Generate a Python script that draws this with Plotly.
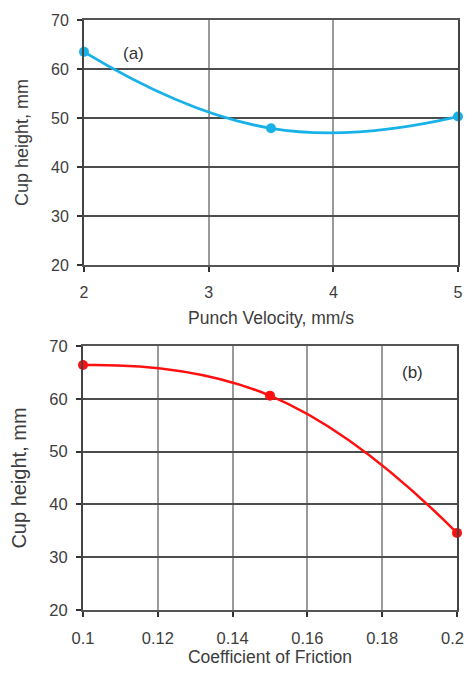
import plotly.graph_objects as go

# Data
vel_x = [2, 3.5, 5]
vel_y = [63.5, 47.9, 50.3]
fric_x = [0.1, 0.15, 0.2]
fric_y = [66.4, 60.6, 34.6]

vel_ticks = [2, 3, 4, 5]
fric_ticks = [0.1, 0.12, 0.14, 0.16, 0.18, 0.2]
# last label padded with non-breaking spaces so it stays inside the page edge
fric_labels = ["0.1", "0.12", "0.14", "0.16", "0.18", "0.2\u00a0\u00a0"]
y_ticks = [20, 30, 40, 50, 60, 70]

FONT = "Liberation Sans, Arial, sans-serif"
TXT = "#3d3d3d"
OFF = 8  # page body margin
W, H = 473 - OFF, 675 - 2 * OFF

fig = go.Figure()
fig.add_trace(go.Scatter(x=vel_x, y=vel_y, mode="lines+markers",
                         line=dict(color="#19b2e8", width=2.8, shape="spline", smoothing=1.3),
                         marker=dict(color="#19b2e8", size=10),
                         xaxis="x", yaxis="y", showlegend=False, cliponaxis=False))
fig.add_trace(go.Scatter(x=fric_x, y=fric_y, mode="lines+markers",
                         line=dict(color="#ff1010", width=2.5, shape="spline", smoothing=1.3),
                         marker=dict(color="#ff1010", size=10),
                         xaxis="x2", yaxis="y2", showlegend=False, cliponaxis=False))

def fx(a):
    return (a - OFF) / W

def fy(t):
    return 1 - (t - OFF) / H

def xaxis_style(tick_size):
    return dict(showgrid=True, gridcolor="#9a9a9a", gridwidth=1.5,
                showline=True, linecolor="#555", linewidth=2, mirror=True,
                ticks="outside", ticklen=5, tickcolor="#333", tickwidth=1.5,
                ticklabelstandoff=7, ticklabeloverflow="allow",
                tickfont=dict(family=FONT, size=tick_size, color=TXT),
                zeroline=False, automargin=False)

def yaxis_style(tick_size, title_size):
    return dict(showgrid=True, gridcolor="#4d4d4d", gridwidth=2,
                showline=True, linecolor="#444", linewidth=2, mirror=True,
                ticks="outside", ticklen=5, tickcolor="#333", tickwidth=1.5,
                ticklabelstandoff=5,
                tickfont=dict(family=FONT, size=tick_size, color=TXT),
                tickvals=y_ticks, range=[20, 70], zeroline=False, automargin=False,
                title=dict(text="Cup height, mm", font=dict(family=FONT, size=title_size, color=TXT), standoff=18))

fig.update_layout(
    width=W, height=H, margin=dict(l=0, r=0, t=0, b=0),
    paper_bgcolor="white", plot_bgcolor="white",
    xaxis=dict(domain=[fx(84), fx(458)], range=[2, 5.00001], tickvals=vel_ticks,
               anchor="y",
               title=dict(text="Punch Velocity, mm/s", font=dict(family=FONT, size=17.5, color=TXT), standoff=12),
               **xaxis_style(16)),
    yaxis=dict(domain=[fy(265), fy(20)], anchor="x", **yaxis_style(16, 18)),
    xaxis2=dict(domain=[fx(83), fx(457)], range=[0.1, 0.200001], tickvals=fric_ticks, ticktext=fric_labels,
                anchor="y2",
                title=dict(text="Coefficient of Friction", font=dict(family=FONT, size=17.5, color=TXT), standoff=18),
                **xaxis_style(16.5)),
    yaxis2=dict(domain=[fy(610), fy(346)], anchor="x2", **yaxis_style(16.5, 20)),
    annotations=[
        dict(text="(a)", x=fx(121), y=fy(42), xref="paper", yref="paper", showarrow=False,
             font=dict(family=FONT, size=17, color="#333")),
        dict(text="(b)", x=fx(425), y=fy(372), xref="paper", yref="paper", showarrow=False,
             font=dict(family=FONT, size=17, color="#333")),
    ],
)

fig.write_html("out.html")
